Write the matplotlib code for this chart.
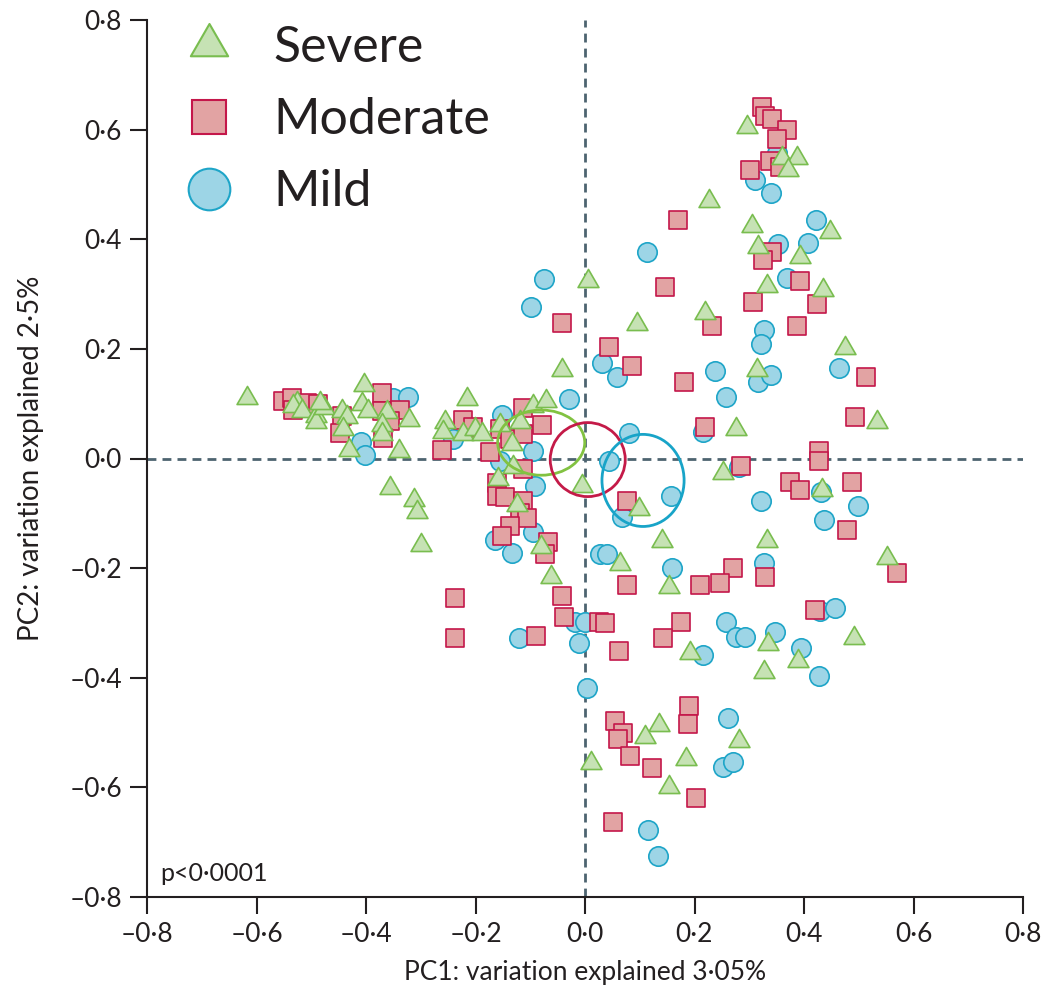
import matplotlib
matplotlib.use("Agg")
import matplotlib.pyplot as plt
from matplotlib.lines import Line2D
from matplotlib.patches import Ellipse
from matplotlib.path import Path

plt.rcParams['font.family'] = ['Lato', 'DejaVu Sans']

# ---------------- data ----------------
severe_x = [-0.617, -0.526, -0.533, -0.517, -0.491, -0.491, -0.477, -0.484, -0.444, -0.435,
            -0.442, -0.404, -0.407, -0.396, -0.362, -0.371, -0.371, -0.321, -0.431, -0.340,
            -0.356, -0.312, -0.307, -0.300, -0.216, -0.256, -0.259, -0.223, -0.201, -0.188,
            -0.155, -0.119, -0.095, -0.071, -0.133, -0.132, -0.159, -0.124, -0.080, -0.005,
            -0.042, -0.062,
            0.296, 0.360, 0.387, 0.371, 0.226, 0.305, 0.447, 0.316, 0.393, 0.332,
            0.435, 0.005, 0.219, 0.095, 0.314, 0.475, 0.533, 0.276, 0.252, 0.433,
            0.099, 0.141, 0.332, 0.064, 0.552, 0.153, 0.192, 0.334, 0.327, 0.389,
            0.491, 0.135, 0.110, 0.281, 0.184, 0.011, 0.153]
severe_y = [0.111, 0.102, 0.095, 0.086, 0.077, 0.066, 0.093, 0.102, 0.086, 0.075,
            0.053, 0.135, 0.099, 0.086, 0.084, 0.062, 0.044, 0.071, 0.016, 0.013,
            -0.053, -0.075, -0.097, -0.157, 0.108, 0.066, 0.049, 0.044, 0.053, 0.044,
            0.062, 0.066, 0.095, 0.104, 0.026, -0.015, -0.038, -0.084, -0.161, -0.051,
            0.162, -0.217,
            0.604, 0.549, 0.549, 0.527, 0.469, 0.425, 0.414, 0.385, 0.367, 0.314,
            0.308, 0.323, 0.266, 0.245, 0.162, 0.201, 0.066, 0.053, -0.026, -0.057,
            -0.093, -0.151, -0.150, -0.192, -0.182, -0.235, -0.354, -0.338, -0.389, -0.369,
            -0.327, -0.487, -0.509, -0.516, -0.549, -0.555, -0.599]

moderate_x = [-0.552, -0.535, -0.533, -0.508, -0.488, -0.444, -0.447, -0.371, -0.371, -0.338,
              -0.356, -0.369, -0.113, -0.079, -0.223, -0.205, -0.261, -0.174, -0.155, -0.137,
              -0.113, -0.113, -0.161, -0.161, -0.146, -0.113, -0.119, -0.106, -0.137, -0.152,
              -0.068, -0.073, -0.237, -0.237, -0.089, -0.042, -0.038, 0.026, -0.042,
              0.323, 0.329, 0.342, 0.369, 0.351, 0.338, 0.356, 0.301, 0.170, 0.342,
              0.325, 0.393, 0.146, 0.307, 0.424, 0.387, 0.232, 0.044, 0.086, 0.181,
              0.219, 0.285, 0.427, 0.427, 0.374, 0.393, 0.488, 0.513, 0.493, 0.479,
              0.077, 0.270, 0.570, 0.077, 0.210, 0.247, 0.329, 0.420, 0.037, 0.175,
              0.142, 0.062, 0.190, 0.188, 0.055, 0.069, 0.060, 0.082, 0.122, 0.203,
              0.051]
moderate_y = [0.104, 0.111, 0.089, 0.102, 0.099, 0.077, 0.047, 0.120, 0.086, 0.089,
              0.068, 0.038, 0.093, 0.062, 0.071, 0.058, 0.016, 0.011, 0.053, 0.035,
              0.044, -0.020, -0.044, -0.069, -0.071, -0.078, -0.099, -0.108, -0.124, -0.142,
              -0.153, -0.175, -0.255, -0.327, -0.323, -0.250, -0.290, -0.299, 0.248,
              0.641, 0.624, 0.619, 0.600, 0.582, 0.542, 0.531, 0.527, 0.436, 0.376,
              0.363, 0.323, 0.312, 0.286, 0.281, 0.241, 0.241, 0.203, 0.168, 0.139,
              0.058, -0.013, 0.013, -0.005, -0.042, -0.057, -0.042, 0.148, 0.075, -0.131,
              -0.077, -0.199, -0.208, -0.230, -0.230, -0.228, -0.217, -0.276, -0.301, -0.299,
              -0.327, -0.352, -0.451, -0.484, -0.478, -0.500, -0.511, -0.542, -0.564, -0.620,
              -0.664]

mild_x = [-0.351, -0.323, -0.409, -0.402, -0.029, -0.152, -0.095, -0.155, -0.091, -0.095,
          -0.164, -0.133, -0.121, -0.018, 0.000, -0.011, 0.004, 0.027, -0.075, -0.099,
          -0.241,
          0.311, 0.340, 0.351, 0.422, 0.353, 0.407, 0.113, 0.369, 0.327, 0.321,
          0.031, 0.058, 0.237, 0.258, 0.316, 0.340, 0.464, 0.080, 0.044, 0.216,
          0.281, 0.157, 0.068, 0.321, 0.431, 0.499, 0.437, 0.040, 0.327, 0.159,
          0.258, 0.276, 0.292, 0.347, 0.429, 0.457, 0.216, 0.395, 0.427, 0.261,
          0.252, 0.270, 0.115, 0.133]
mild_y = [0.111, 0.113, 0.031, 0.007, 0.109, 0.080, 0.013, -0.005, -0.051, -0.135,
          -0.148, -0.172, -0.327, -0.299, -0.299, -0.336, -0.418, -0.175, 0.327, 0.276,
          0.035,
          0.509, 0.485, 0.558, 0.436, 0.391, 0.394, 0.376, 0.330, 0.234, 0.208,
          0.175, 0.148, 0.159, 0.113, 0.139, 0.153, 0.166, 0.047, -0.005, 0.049,
          -0.016, -0.069, -0.106, -0.078, -0.062, -0.086, -0.113, -0.175, -0.190, -0.199,
          -0.299, -0.325, -0.325, -0.316, -0.279, -0.272, -0.359, -0.345, -0.396, -0.474,
          -0.562, -0.553, -0.677, -0.726]

# group ellipses: centre x, centre y, width, height
ellipse_groups = ['Severe', 'Moderate', 'Mild']
ellipse_cx = [-0.080, 0.005, 0.106]
ellipse_cy = [0.029, -0.002, -0.040]
ellipse_w = [0.159, 0.137, 0.150]
ellipse_h = [0.119, 0.135, 0.168]

tick_values = [-0.8, -0.6, -0.4, -0.2, 0.0, 0.2, 0.4, 0.6, 0.8]
tick_labels = ['\u20130\u00b78', '\u20130\u00b76', '\u20130\u00b74', '\u20130\u00b72', '0\u00b70',
               '0\u00b72', '0\u00b74', '0\u00b76', '0\u00b78']

# ---------------- style ----------------
sev_fc, sev_ec = '#c6e2b4', '#79bd4f'
mod_fc, mod_ec = '#e2a3a3', '#c4174a'
mil_fc, mil_ec = '#9dd5e6', '#1ea5c8'
ell_colors = ['#82c241', '#c41a48', '#18a4c8']
ink = '#231f20'

tri = Path([(0, 0.577), (-0.5, -0.289), (0.5, -0.289), (0, 0.577)],
           [Path.MOVETO, Path.LINETO, Path.LINETO, Path.CLOSEPOLY])

fig = plt.figure(figsize=(10.43, 9.93), dpi=100)
ax = fig.add_axes([147/1043, 96/993, 876/1043, 877/993])

ax.axhline(0, color='#4d6470', lw=2.0, ls=(0, (3.2, 2.2)), zorder=1)
ax.axvline(0, color='#4d6470', lw=2.0, ls=(0, (3.2, 2.2)), zorder=1)

ax.scatter(mild_x, mild_y, s=195, marker='o', facecolor=mil_fc, edgecolor=mil_ec,
           linewidth=1.2, zorder=2)
ax.scatter(moderate_x, moderate_y, s=170, marker='s', facecolor=mod_fc, edgecolor=mod_ec,
           linewidth=1.2, zorder=3)
ax.scatter(severe_x, severe_y, s=300, marker=tri, facecolor=sev_fc, edgecolor=sev_ec,
           linewidth=1.2, zorder=4)

for cx, cy, w, h, c in zip(ellipse_cx, ellipse_cy, ellipse_w, ellipse_h, ell_colors):
    ax.add_patch(Ellipse((cx, cy), w, h, fill=False, edgecolor=c, lw=2.0, zorder=5))

ax.set_xlim(-0.8, 0.8)
ax.set_ylim(-0.8, 0.8)
ax.set_xticks(tick_values)
ax.set_xticklabels(tick_labels)
ax.set_yticks(tick_values)
ax.set_yticklabels(tick_labels)
ax.tick_params(direction='out', length=12, width=1.5, labelsize=19, pad=6, colors=ink)
for side in ['top', 'right']:
    ax.spines[side].set_visible(False)
for side in ['left', 'bottom']:
    ax.spines[side].set_linewidth(1.5)
    ax.spines[side].set_color(ink)

ax.set_xlabel('PC1: variation explained 3\u00b705%', fontsize=19, color=ink)
ax.set_ylabel('PC2: variation explained 2\u00b75%', fontsize=20, color=ink)
ax.xaxis.set_label_coords(0.5, -0.072)
ax.yaxis.set_label_coords(-0.118, 0.5)

ax.text(0.015, 0.027, 'p<0\u00b70001', transform=ax.transAxes, fontsize=18,
        color=ink, va='center', ha='left')

handles = [
    Line2D([], [], ls='none', marker=tri, markersize=31, markerfacecolor=sev_fc,
           markeredgecolor=sev_ec, markeredgewidth=1.5),
    Line2D([], [], ls='none', marker='s', markersize=25, markerfacecolor=mod_fc,
           markeredgecolor=mod_ec, markeredgewidth=1.5),
    Line2D([], [], ls='none', marker='o', markersize=30, markerfacecolor=mil_fc,
           markeredgecolor=mil_ec, markeredgewidth=1.5),
]
leg = ax.legend(handles, ellipse_groups, loc='upper left', bbox_to_anchor=(0.042, 0.994),
                frameon=False, fontsize=36, handlelength=1.0, handletextpad=0.8,
                labelspacing=0.52, borderaxespad=0, borderpad=0)
for t in leg.get_texts():
    t.set_color(ink)

fig.savefig('out.png', dpi=100)
